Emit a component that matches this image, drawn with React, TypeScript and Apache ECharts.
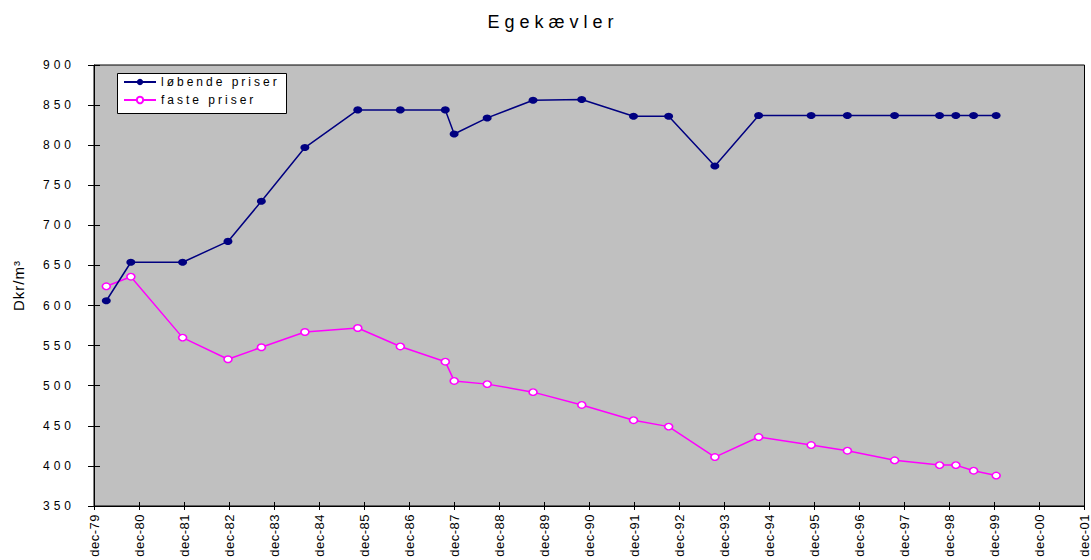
import React, { useEffect, useRef } from "react";
import * as echarts from "echarts";

const titleText = "Egekævler";
const yAxisName = "Dkr/m³";
const seriesNames = ["løbende priser", "faste priser"];

// observation dates
const dates = [
  "1980-03-10", "1980-09-25", "1981-11-19", "1982-11-22", "1983-08-20", "1984-08-07",
  "1985-10-10", "1986-09-20", "1987-09-20", "1987-12-01", "1988-08-25", "1989-09-01",
  "1990-10-01", "1991-11-25", "1992-09-05", "1993-09-15", "1994-09-05", "1995-11-05",
  "1996-08-25", "1997-09-12", "1998-09-12", "1999-01-22", "1999-06-15", "1999-12-15",
];
const loebendePriser = [
  606, 654, 654, 680, 730, 797, 844, 844, 844, 814, 834, 856,
  857, 836, 836, 774, 837, 837, 837, 837, 837, 837, 837, 837,
];
const fastePriser = [
  624, 636, 560, 533, 548, 567, 572, 549, 530, 506, 502, 492,
  476, 457, 449, 411, 436, 426, 419, 407, 401, 401, 394, 388,
];

// x axis: months counted from dec-79 to dec-01, one tick per year
const axisStartYear = 1979;
const xMin = 0;
const xMax = 264;
const xInterval = 12;
const yMin = 350;
const yMax = 900;
const yInterval = 50;

const FONT = "'Liberation Sans', Arial, sans-serif";

function monthsFromStart(d: string): number {
  const [y, m, day] = d.split("-").map(Number);
  const t = Date.UTC(y, m - 1, day) - Date.UTC(axisStartYear, 11, 1);
  return t / (86400000 * 30.4375);
}

function xLabel(v: number): string {
  const yy = (axisStartYear + Math.round(v / 12)) % 100;
  return "dec-" + String(yy).padStart(2, "0");
}

export default function App() {
  const ref = useRef<HTMLDivElement>(null);
  useEffect(() => {
    if (!ref.current) return;
    const chart = echarts.init(ref.current, null, { renderer: "svg" });
    const xs = dates.map(monthsFromStart);
    const blue = xs.map((x, i) => [x, loebendePriser[i]]);
    const pink = xs.map((x, i) => [x, fastePriser[i]]);
    const option: any = {
      animation: false,
      backgroundColor: "#ffffff",
      textStyle: { fontFamily: FONT, color: "#000" },
      grid: {
        left: 94,
        top: 65,
        right: 2,
        bottom: 54,
        show: true,
        backgroundColor: "#C0C0C0",
        borderColor: "#000",
        borderWidth: 1,
      },
      graphic: [
        {
          type: "text",
          x: 553,
          y: 22,
          z: 5,
          style: {
            text: titleText,
            font: `18px ${FONT}`,
            fill: "#000",
            align: "center",
            verticalAlign: "middle",
          },
        },
        {
          type: "rect",
          z: 5,
          shape: { x: 117.5, y: 73.5, width: 169, height: 40 },
          style: { fill: "#fff", stroke: "#000", lineWidth: 1 },
        },
      ],
      legend: {
        z: 10,
        orient: "vertical",
        left: 123,
        top: 76,
        padding: 0,
        itemWidth: 32,
        itemHeight: 8,
        itemGap: 6,
        textStyle: { fontSize: 12, fontFamily: FONT, color: "#000" },
        data: seriesNames,
      },
      xAxis: [
        {
          type: "value",
          min: xMin,
          max: xMax,
          interval: xInterval,
          axisLine: { show: true, lineStyle: { color: "#000", width: 1 } },
          axisTick: { show: true, inside: false, length: 4, lineStyle: { color: "#000" } },
          splitLine: { show: false },
          axisLabel: {
            rotate: 90,
            margin: 8,
            fontSize: 13,
            fontFamily: FONT,
            color: "#000",
            formatter: xLabel,
          },
        },
        {
          type: "value",
          position: "bottom",
          min: xMin,
          max: xMax,
          interval: xInterval,
          axisLine: { show: false },
          axisTick: { show: true, inside: true, length: 4, lineStyle: { color: "#000" } },
          splitLine: { show: false },
          axisLabel: { show: false },
        },
      ],
      yAxis: [
        {
          type: "value",
          min: yMin,
          max: yMax,
          interval: yInterval,
          name: yAxisName,
          nameLocation: "middle",
          nameGap: 68,
          nameTextStyle: { fontSize: 15, fontFamily: FONT, color: "#000" },
          axisLine: { show: true, lineStyle: { color: "#000", width: 1 } },
          axisTick: { show: true, inside: false, length: 6, lineStyle: { color: "#000" } },
          splitLine: { show: false },
          axisLabel: { margin: 19, fontSize: 12, fontFamily: FONT, color: "#000" },
        },
        {
          type: "value",
          position: "left",
          min: yMin,
          max: yMax,
          interval: yInterval,
          axisLine: { show: false },
          axisTick: { show: true, inside: true, length: 6, lineStyle: { color: "#000" } },
          splitLine: { show: false },
          axisLabel: { show: false },
        },
      ],
      series: [
        {
          name: seriesNames[0],
          type: "line",
          data: blue,
          symbol: "circle",
          symbolSize: [9, 7],
          lineStyle: { color: "#000080", width: 1.5 },
          itemStyle: { color: "#000080" },
          z: 3,
        },
        {
          name: seriesNames[1],
          type: "line",
          data: pink,
          symbol: "circle",
          symbolSize: [8, 6.5],
          lineStyle: { color: "#FF00FF", width: 1.5 },
          itemStyle: { color: "#ffffff", borderColor: "#FF00FF", borderWidth: 1.5 },
          z: 2,
        },
      ],
    };
    chart.setOption(option);

    // mimic the wide character spacing of the original rendering
    const svg = ref.current.querySelector("svg");
    if (svg) {
      svg.querySelectorAll("text").forEach((t) => {
        const s = (t.textContent || "").trim();
        let ls = "";
        if (s === titleText) ls = "5px";
        else if (seriesNames.includes(s)) ls = "3px";
        else if (/^\d+$/.test(s)) ls = "4px";
        else if (s.startsWith("dec-")) ls = "0.5px";
        else if (s === yAxisName) ls = "1px";
        if (ls) (t as SVGTextElement).style.letterSpacing = ls;
      });
    }
    return () => chart.dispose();
  }, []);
  return (
    <div
      ref={ref}
      style={{ position: "fixed", left: 0, top: 0, width: 1091, height: 560 }}
    />
  );
}
